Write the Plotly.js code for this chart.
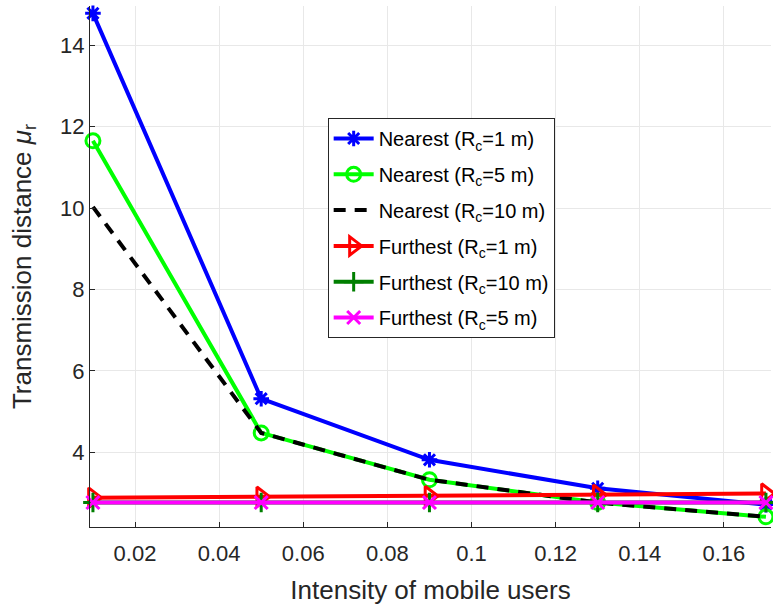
<!DOCTYPE html>
<html>
<head>
<meta charset="utf-8">
<script src="https://cdn.plot.ly/plotly-3.0.1.min.js"></script>
<style>html,body{margin:0;padding:0;background:#fff;}#chart{width:773px;height:608px;}</style>
</head>
<body>
<div id="chart"></div>
<script>
const intensity = [0.01, 0.05, 0.09, 0.13, 0.17];
const nearestRc1 = [14.78, 5.32, 3.82, 3.12, 2.72];
const nearestRc5 = [11.65, 4.48, 3.33, 2.77, 2.42];
const nearestRc10 = [10.03, 4.48, 3.33, 2.77, 2.42];
const furthestRc1 = [2.89, 2.91, 2.93, 2.96, 2.99];
const furthestRc10 = [2.77, 2.77, 2.77, 2.77, 2.77];
const furthestRc5 = [2.77, 2.77, 2.77, 2.77, 2.77];
const names = [
  "Nearest (R<sub>c</sub>=1 m)",
  "Nearest (R<sub>c</sub>=5 m)",
  "Nearest (R<sub>c</sub>=10 m)",
  "Furthest (R<sub>c</sub>=1 m)",
  "Furthest (R<sub>c</sub>=10 m)",
  "Furthest (R<sub>c</sub>=5 m)"
];
const xTicks = [0.02, 0.04, 0.06, 0.08, 0.1, 0.12, 0.14, 0.16];
const xTickText = ["0.02", "0.04", "0.06", "0.08", "0.1", "0.12", "0.14", "0.16"];
const yTicks = [4, 6, 8, 10, 12, 14];

function tr(i, y, color, sym, msize, dash) {
  const t = {
    x: intensity, y: y, name: names[i], legendgroup: "g" + i, type: "scatter",
    mode: sym ? "lines+markers" : "lines",
    cliponaxis: false,
    line: {color: color, width: 4, dash: dash || "solid"}
  };
  if (sym) t.marker = {symbol: sym, size: msize, color: color, line: {color: color, width: 3}};
  return t;
}
const data = [
  tr(0, nearestRc1, "#0000ff", "asterisk-open", 13),
  tr(1, nearestRc5, "#00ff00", "circle-open", 14),
  tr(2, nearestRc10, "#000000", null, 0, "12px,9px"),
  tr(3, furthestRc1, "#ff0000", "triangle-right-open", 17),
  tr(4, furthestRc10, "#007f00", "cross-thin-open", 14),
  tr(5, furthestRc5, "#ff00ff", "x-thin-open", 13)
];
const ff = "Liberation Sans, Arial, sans-serif";
const layout = {
  width: 773, height: 608,
  margin: {l: 90, r: 2, t: 6, b: 81},
  paper_bgcolor: "#fff", plot_bgcolor: "#fff",
  font: {family: ff, color: "#262626"},
  showlegend: true,
  legend: {
    x: 0.349, y: 0.785, xanchor: "left", yanchor: "top",
    bgcolor: "#fff", bordercolor: "#262626", borderwidth: 1,
    font: {family: ff, size: 20, color: "#000"},
    itemwidth: 40, tracegroupgap: 6.8
  },
  xaxis: {
    range: [0.0093, 0.1712],
    tickvals: xTicks, ticktext: xTickText,
    ticks: "inside", ticklen: 5, tickcolor: "#262626",
    ticklabelstandoff: 7,
    showline: true, linecolor: "#262626", linewidth: 1, mirror: false,
    showgrid: true, gridcolor: "#e8e8e8", zeroline: false,
    tickfont: {family: ff, size: 22, color: "#262626"},
    title: {text: "Intensity of mobile users", font: {family: ff, size: 26, color: "#262626"}, standoff: 15}
  },
  yaxis: {
    range: [2.17, 14.96],
    tickvals: yTicks,
    ticks: "inside", ticklen: 5, tickcolor: "#262626",
    showline: true, linecolor: "#262626", linewidth: 1, mirror: false,
    showgrid: true, gridcolor: "#e8e8e8", zeroline: false,
    tickfont: {family: ff, size: 22, color: "#262626"},
    title: {text: "Transmission distance <i>μ</i><sub>r</sub>", font: {family: ff, size: 26, color: "#262626"}, standoff: 21}
  }
};
Plotly.newPlot("chart", data, layout, {displayModeBar: false, staticPlot: true});
</script>
</body>
</html>
